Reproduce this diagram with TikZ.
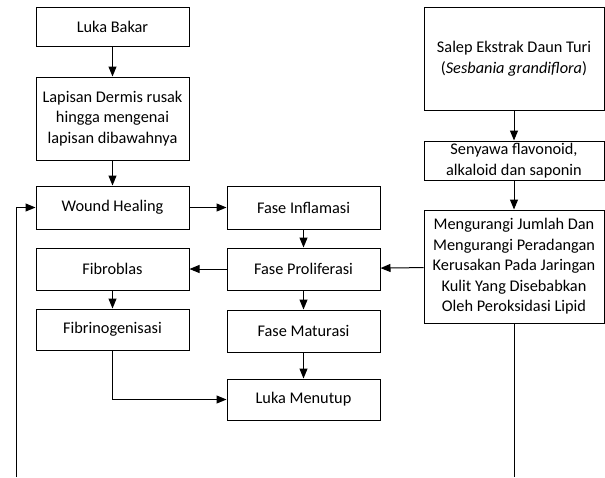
\documentclass[tikz,border=0pt]{standalone}
\usepackage{fontspec}
\setmainfont{Carlito}
\usetikzlibrary{arrows.meta}
\begin{document}
\begin{tikzpicture}[x=1pt,y=-1pt,
  box/.style={draw,line width=1pt,inner sep=0pt,align=center,font=\fontsize{16.3}{20.5}\selectfont},
  arr/.style={line width=1pt,-{Triangle[length=10pt,width=8pt]}},
  ln/.style={line width=1pt}]
\useasboundingbox (0,0) rectangle (605,477);
\node[box,minimum width=153pt,minimum height=39pt] (lb) at (112.5,26.5) {Luka Bakar};
\node[box,minimum width=153pt,minimum height=83pt] (ld) at (112.5,118.5) {Lapisan Dermis rusak\\hingga mengenai\\lapisan dibawahnya};
\node[box,minimum width=153pt,minimum height=43pt] (wh) at (112.5,207.5) {Wound Healing};
\node[box,minimum width=153pt,minimum height=43pt] (fi) at (303.5,207.5) {Fase Inflamasi};
\node[box,minimum width=153pt,minimum height=42pt] (fb) at (112.5,269) {Fibroblas};
\node[box,minimum width=153pt,minimum height=42pt] (fp) at (303.5,269) {Fase Proliferasi};
\node[box,minimum width=153pt,minimum height=41pt] (fg) at (112.5,329.5) {Fibrinogenisasi};
\node[box,minimum width=153pt,minimum height=42pt] (fm) at (303.5,331) {Fase Maturasi};
\node[box,minimum width=153pt,minimum height=41pt] (lm) at (303.5,399.5) {Luka Menutup};
\node[box,minimum width=180pt,minimum height=103pt] (sp) at (514,58.5) {Salep Ekstrak Daun Turi\\(\textit{Sesbania grandiflora})};
\node[box,minimum width=180pt,minimum height=39pt] (sy) at (514,160.5) {Senyawa flavonoid,\\alkaloid dan saponin};
\node[box,minimum width=180pt,minimum height=113pt] (mg) at (514,266.5) {Mengurangi Jumlah Dan\\Mengurangi Peradangan\\Kerusakan Pada Jaringan\\Kulit Yang Disebabkan\\Oleh Peroksidasi Lipid};
\coordinate (l0) at (16,477);
\coordinate (r0) at (514,477);
\draw[arr] (lb) -- (ld);
\draw[arr] (ld) -- (wh);
\draw[arr] (wh) -- (fi);
\draw[arr] (fi) -- (fp);
\draw[arr] (fp) -- (fb);
\draw[arr] (fb) -- (fg);
\draw[arr] (fp) -- (fm);
\draw[arr] (fm) -- (lm);
\draw[arr] (fg.south) |- (lm.west);
\draw[arr] (sp) -- (sy);
\draw[arr] (sy) -- (mg);
\draw[arr] (mg) -- (fp);
\draw[arr] (l0) |- (wh.west);
\draw[ln] (mg.south) -- (r0);
\end{tikzpicture}
\end{document}
